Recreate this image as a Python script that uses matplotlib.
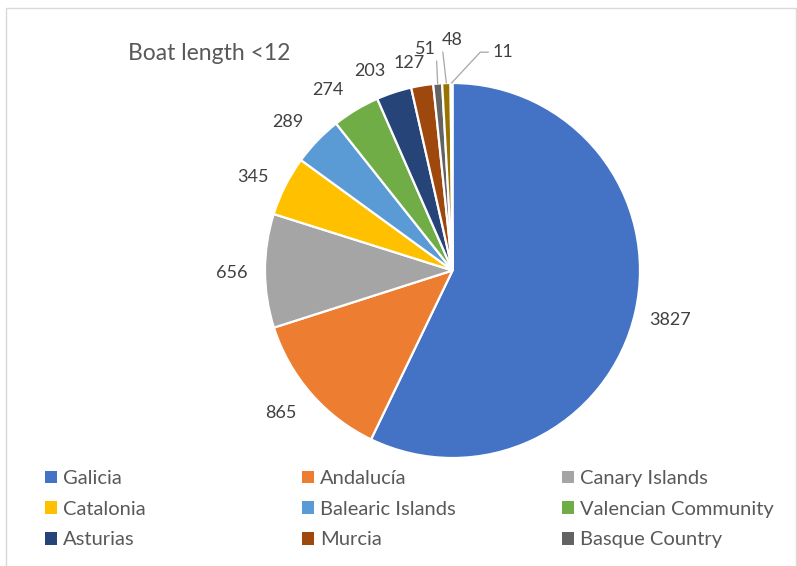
import matplotlib
matplotlib.use("Agg")
import numpy as np
import matplotlib.pyplot as plt
from matplotlib.patches import Rectangle, Patch

plt.rcParams['font.family'] = ['Lato', 'DejaVu Sans']

# ---- data ----
categories = ["Galicia", "Andalucía", "Canary Islands", "Catalonia", "Balearic Islands",
              "Valencian Community", "Asturias", "Murcia", "Basque Country",
              "Cantabria", "Ceuta"]
values = [3827, 865, 656, 345, 289, 274, 203, 127, 51, 48, 11]
colors = ["#4472C4", "#ED7D31", "#A5A5A5", "#FFC000", "#5B9BD5", "#70AD47",
          "#264478", "#9E480E", "#636363", "#997300", "#255E91"]
legend_count = 9  # entries visible in the legend
title = "Boat length <12"

# ---- label layout (angle offset from wedge middle in deg, radial distance, leader) ----
label_layout = [(0.1, 1.19, None), (-1.4, 1.19, None), (0.5, 1.18, None), (1.7, 1.175, None),
                (1.75, 1.18, None), (3.6, 1.17, None), (4.3, 1.15, None), (2.5, 1.13, None),
                (2.3, 1.19, "straight_r"), (-1.8, 1.23, "straight_l"), (-13.3, 1.195, "elbow")]

W, H = 797, 566
fig = plt.figure(figsize=(W / 100, H / 100), dpi=100)
cx, cy, R = 452.5, 270.5, 187.5
span = 1.35
ax = fig.add_axes([(cx - span * R) / W, (H - cy - span * R) / H, 2 * span * R / W, 2 * span * R / H])

wedges, _ = ax.pie(values, colors=colors, startangle=90, counterclock=False, radius=1,
                   wedgeprops=dict(edgecolor="white", linewidth=1.6))
ax.set_xlim(-span, span)
ax.set_ylim(-span, span)
ax.set_aspect("equal")
ax.axis("off")

label_fs = 13
line_color = "#A6A6A6"
for w, v, (off, dist, leader) in zip(wedges, values, label_layout):
    mid = (w.theta1 + w.theta2) / 2.0
    a = np.deg2rad(mid + off)
    tx, ty = dist * np.cos(a), dist * np.sin(a)
    if leader is None:
        ax.text(tx, ty, str(v), ha="center", va="center", fontsize=label_fs, color="#404040")
    else:
        m = np.deg2rad(mid)
        px, py = np.cos(m), np.sin(m)
        if leader == "straight_r":
            arrow = dict(arrowstyle="-", color=line_color, lw=0.9, shrinkA=1, shrinkB=0,
                         relpos=(1.0, 0.1))
        elif leader == "straight_l":
            arrow = dict(arrowstyle="-", color=line_color, lw=0.9, shrinkA=1, shrinkB=0,
                         relpos=(0.0, 0.35))
        else:
            arrow = dict(arrowstyle="-", color=line_color, lw=0.9, shrinkA=1, shrinkB=0,
                         relpos=(0.0, 0.5),
                         connectionstyle="angle,angleA=0,angleB=47,rad=0")
        ax.annotate(str(v), xy=(px, py), xytext=(tx, ty), ha="center", va="center",
                    fontsize=label_fs, color="#404040", arrowprops=arrow)

# ---- title ----
fig.text(128 / W, 1 - 53 / H, title, fontsize=16.5, ha="left", va="center", color="#595959")

# ---- legend: 3 columns ----
col_x = [45, 302, 562]
ncol = 3
nrow = int(np.ceil(legend_count / ncol))
for c in range(ncol):
    idx = [r * ncol + c for r in range(nrow) if r * ncol + c < legend_count]
    handles = [Patch(facecolor=colors[i], edgecolor="none") for i in idx]
    labels = [categories[i] for i in idx]
    fig.legend(handles, labels, loc="upper left", bbox_to_anchor=(col_x[c] / W, 1 - 470 / H),
               frameon=False, fontsize=14.5, labelcolor="#595959", borderpad=0, borderaxespad=0,
               handlelength=0.6, handleheight=0.6, handletextpad=0.3, labelspacing=0.68)

# ---- outer border ----
fig.add_artist(Rectangle((6 / W, -0.1), (796 - 6) / W, (1 - 8 / H) + 0.1,
                         transform=fig.transFigure, fill=False, edgecolor="#D9D9D9", lw=1))

fig.savefig("out.png", dpi=100)
